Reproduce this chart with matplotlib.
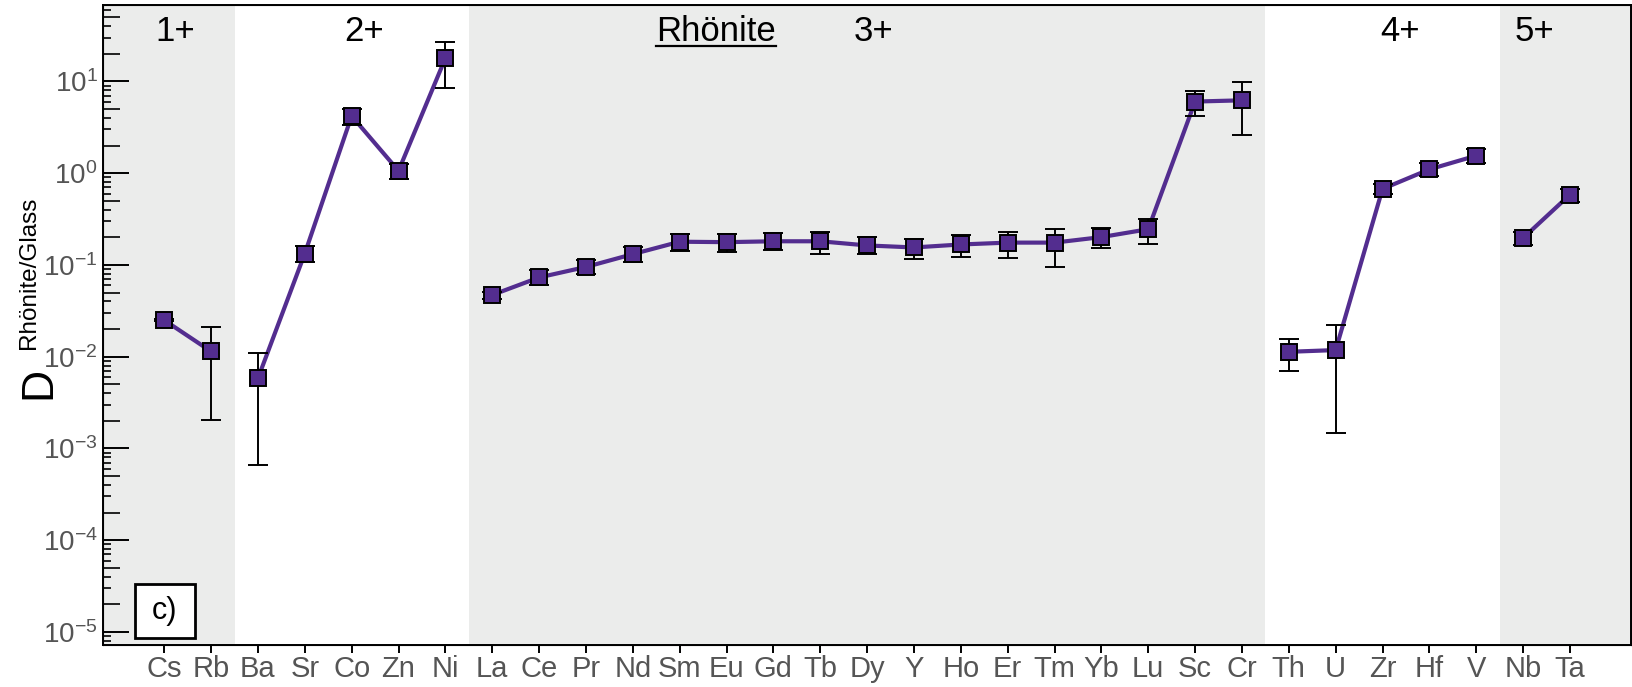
import numpy as np
import matplotlib.pyplot as plt
import matplotlib.transforms as mtransforms
from matplotlib.ticker import LogLocator, NullFormatter, FixedLocator
from matplotlib.patches import Rectangle
from matplotlib.lines import Line2D

plt.rcParams['font.family'] = 'Liberation Sans'
plt.rcParams['mathtext.fontset'] = 'custom'
plt.rcParams['mathtext.rm'] = 'Liberation Sans'
plt.rcParams['mathtext.it'] = 'Liberation Sans:italic'
plt.rcParams['mathtext.bf'] = 'Liberation Sans:bold'

# Datos
elements = ['Cs', 'Rb', 'Ba', 'Sr', 'Co', 'Zn', 'Ni', 'La', 'Ce', 'Pr', 'Nd',
            'Sm', 'Eu', 'Gd', 'Tb', 'Dy', 'Y', 'Ho', 'Er', 'Tm', 'Yb', 'Lu',
            'Sc', 'Cr', 'Th', 'U', 'Zr', 'Hf', 'V', 'Nb', 'Ta']
D = [0.025, 0.0114, 0.0058, 0.133, 4.2, 1.06, 17.9, 0.047, 0.073, 0.095, 0.131,
     0.179, 0.177, 0.181, 0.181, 0.163, 0.155, 0.167, 0.175, 0.175, 0.201, 0.245,
     6.03, 6.22, 0.0113, 0.0118, 0.673, 1.10, 1.55, 0.196, 0.583]
D_low = [0.0245, 0.00205, 0.00066, 0.107, 3.36, 0.87, 8.4, 0.043, 0.06, 0.079, 0.108,
         0.143, 0.139, 0.147, 0.132, 0.13, 0.116, 0.123, 0.12, 0.096, 0.151, 0.17,
         4.24, 2.58, 0.0070, 0.00146, 0.60, 0.94, 1.30, 0.166, 0.49]
D_high = [0.0255, 0.021, 0.0109, 0.162, 5.05, 1.26, 27.0, 0.051, 0.088, 0.114, 0.158,
          0.219, 0.217, 0.221, 0.226, 0.201, 0.193, 0.212, 0.231, 0.249, 0.25, 0.315,
          7.77, 9.78, 0.0155, 0.0221, 0.76, 1.29, 1.85, 0.23, 0.68]

# grupos por carga (inicio, fin)
groups = [(0, 2), (2, 7), (7, 24), (24, 29), (29, 31)]
charges = ['1+', '2+', '3+', '4+', '5+']
charge_x = [0.23, 4.26, 15.14, 26.37, 29.25]

purple = '#532d8f'
grey_band = '#ebeceb'
tick_grey = '#555555'

x = np.arange(len(elements))
D = np.array(D)
D_low = np.array(D_low)
D_high = np.array(D_high)

fig = plt.figure(figsize=(16.32, 6.87), dpi=100)
ax = fig.add_axes([0.0633, 0.0611, 0.936, 0.9316])

xmin, xmax = -1.3, 31.3
# bandas grises alternas
for k, (a, b) in enumerate(groups):
    if k % 2 == 0:
        lo = xmin if a == 0 else a - 0.5
        hi = xmax if b == len(elements) else b - 0.5
        ax.axvspan(lo, hi, color=grey_band, lw=0, zorder=0)

for (a, b) in groups:
    xs = x[a:b]
    ax.plot(xs, D[a:b], '-', color=purple, lw=3, zorder=2)
    ax.errorbar(xs, D[a:b], yerr=[D[a:b] - D_low[a:b], D_high[a:b] - D[a:b]],
                fmt='none', ecolor='black', elinewidth=1.4, capsize=7.5,
                capthick=1.4, zorder=3)
    ax.plot(xs, D[a:b], 's', color=purple, ms=12, mec='black', mew=1.4, zorder=4)

ax.set_yscale('log')
ax.set_xlim(xmin, xmax)
ax.set_ylim(7.2e-6, 68)

ax.set_xticks(x)
ax.set_xticklabels(elements)
ax.tick_params(axis='x', direction='out', length=6, width=1.4, pad=1,
               labelsize=21, labelcolor=tick_grey)
ax.yaxis.set_major_locator(LogLocator(base=10, numticks=20))
ax.yaxis.set_minor_locator(LogLocator(base=10, subs=(3, 4, 6, 7, 8, 9), numticks=20))
ax.yaxis.set_minor_formatter(NullFormatter())
ax.tick_params(axis='y', which='major', direction='in', length=18.5, width=1.4,
               pad=4, labelsize=20, labelcolor=tick_grey)
ax.tick_params(axis='y', which='minor', direction='in', length=6, width=1.2)
for s in ax.spines.values():
    s.set_linewidth(1.4)

# ticks menores largos (2 y 5)
ax2 = ax.twinx()
ax2.set_yscale('log')
ax2.set_ylim(ax.get_ylim())
ax2.yaxis.set_ticks_position('left')
ax2.yaxis.set_major_locator(LogLocator(base=10, subs=(2, 5), numticks=20))
ax2.yaxis.set_minor_locator(FixedLocator([]))
ax2.yaxis.set_major_formatter(NullFormatter())
ax2.tick_params(axis='y', which='major', direction='in', length=12, width=1.2)
ax2.set_xlim(xmin, xmax)

trans = mtransforms.blended_transform_factory(ax.transData, ax.transAxes)
for cx, lab in zip(charge_x, charges):
    ax.text(cx, 0.958, lab, transform=trans, ha='center', va='center',
            fontsize=25, color='black')
rh = ax.text(11.77, 0.958, 'Rhönite', transform=trans,
             ha='center', va='center', fontsize=25, color='black')

# caja c)
ax.add_patch(Rectangle((0.0207, 0.011), 0.0393, 0.085, transform=ax.transAxes,
                       facecolor='white', edgecolor='black', lw=2, zorder=5))
ax.text(0.0207 + 0.0393 / 2, 0.011 + 0.085 / 2, 'c)', transform=ax.transAxes,
        ha='center', va='center', fontsize=22, zorder=6)

# etiqueta del eje y
fig.text(39 / 1632, 1 - 383 / 687, 'D', rotation=90, ha='center', va='center',
         fontsize=32)
fig.text(29 / 1632, 1 - 273 / 687, 'Rhönite/Glass', rotation=90, ha='center',
         va='center', fontsize=17.5)

# subrayado de "Rhönite"
fig.canvas.draw()
bb = rh.get_window_extent().transformed(ax.transAxes.inverted())
yline = bb.y0 + 0.004
ax.add_line(Line2D([bb.x0, bb.x1], [yline, yline], transform=ax.transAxes,
                   color='black', lw=1.6))

fig.savefig('out.png', dpi=100)
